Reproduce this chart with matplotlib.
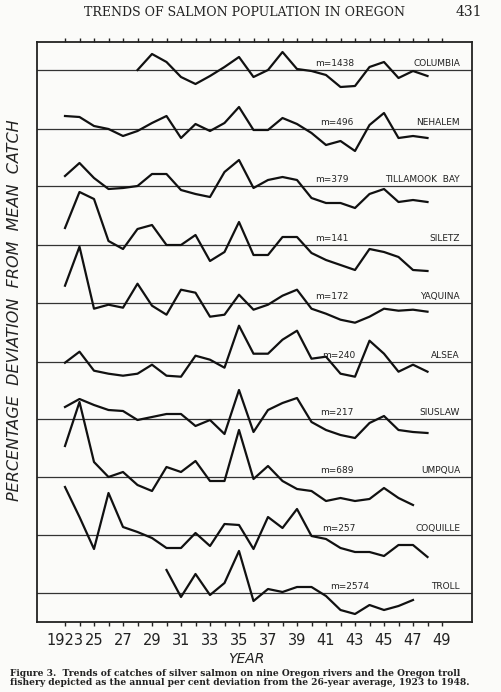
import matplotlib
matplotlib.use("Agg")
import matplotlib.pyplot as plt
import numpy as np

years = list(range(1923, 1949))
names = ["COLUMBIA", "NEHALEM", "TILLAMOOK  BAY", "SILETZ", "YAQUINA", "ALSEA",
         "SIUSLAW", "UMPQUA", "COQUILLE", "TROLL"]
means = ["m=1438", "m=496", "m=379", "m=141", "m=172", "m=240", "m=217", "m=689", "m=257", "m=2574"]
start_year = [1928, 1923, 1923, 1923, 1923, 1923, 1923, 1923, 1923, 1930]
columbia = [0, 16, 8, -7, -14, -6, 3, 13, -7, 0, 18, 1, -1, -5, -17, -16, 3, 8, -8, -1, -6]
nehalem = [13, 12, 3, 0, -7, -2, 6, 13, -9, 5, -2, 6, 22, -1, -1, 11, 5, -4, -16, -12, -22, 4, 16, -9, -7, -9]
tillamook = [10, 23, 8, -3, -2, 0, 12, 12, -4, -8, -11, 14, 26, -2, 6, 9, 6, -12, -17, -17, -22, -8, -3, -16, -14, -16]
siletz = [17, 53, 46, 4, -4, 16, 20, 0, 0, 10, -16, -7, 23, -10, -10, 8, 8, -8, -15, -20, -25, -4, -7, -12, -25, -26]
yaquina = [17, 56, -6, -2, -5, 19, -3, -12, 13, 10, -14, -12, 8, -7, -2, 7, 13, -6, -11, -17, -20, -14, -6, -8, -7, -9]
alsea = [-1, 10, -9, -12, -14, -12, -3, -14, -15, 6, 2, -6, 36, 8, 8, 22, 31, 3, 5, -12, -15, 21, 8, -10, -3, -10]
siuslaw = [12, 20, 14, 9, 8, -1, 2, 5, 5, -7, -1, -15, 29, -13, 9, 16, 21, -3, -11, -16, -19, -4, 3, -11, -13, -14]
umpqua = [31, 75, 15, 0, 5, -8, -14, 10, 5, 16, -4, -4, 47, -2, 11, -4, -12, -14, -24, -21, -24, -22, -11, -21, -28]
coquille = [48, 18, -14, 42, 8, 3, -3, -13, -13, 2, -11, 11, 10, -14, 18, 7, 26, -1, -4, -13, -17, -17, -21, -10, -10, -22]
troll = [23, -4, 19, -2, 10, 42, -8, 4, 1, 6, 6, -3, -17, -21, -12, -17, -13, -7]
series = [columbia, nehalem, tillamook, siletz, yaquina, alsea, siuslaw, umpqua, coquille, troll]

W, H = 502, 692
fig = plt.figure(figsize=(W/100, H/100), dpi=100, facecolor="#fbfbf9")
L, R, T, B = 37, 472, 42, 622
ax = fig.add_axes([L/W, 1-B/H, (R-L)/W, (B-T)/H])
ax.set_facecolor("#fbfbf9")
px = 14.5
ax.set_xlim(1923-(65-L)/px, 1923+(R-65)/px)
ax.set_ylim(-B, -T)
baselines = [70, 129, 186, 245, 302.7, 361.7, 419, 477, 535, 593]
mpos = [315, 320, 315, 315, 315, 322, 320, 320, 322, 330]
for s, base, nm, m, sy, mx in zip(series, baselines, names, means, start_year, mpos):
    yrs = np.arange(sy, sy+len(s))
    ax.axhline(-base, color="#333", lw=0.9)
    ax.plot(yrs, -base+np.array(s), color="#111", lw=1.6)
    xd = 1923+(mx-65)/px
    ax.text(xd, -base+2, m, fontsize=6.5, ha="left", va="bottom", color="#222")
    ax.text(1923+(460-65)/px, -base+2, nm, fontsize=6.5, ha="right", va="bottom", color="#222")
for sp in ax.spines.values():
    sp.set_linewidth(1.3); sp.set_color("#222")
ax.set_yticks([])
ax.set_xticks(range(1923, 1950))
ax.set_xticklabels([("1923" if y == 1923 else f"{y%100:02d}") if y % 2 == 1 else "" for y in range(1923, 1950)],
                   fontsize=10.5)
ax.tick_params(axis="x", direction="out", length=3, width=1, pad=5, colors="#222", top=True)
fig.text((65+14.5*12.5)/W, 1-659/H, "YEAR", fontsize=10, style="italic", ha="center", va="center", color="#222")
fig.text(15/W, 1-310/H, "PERCENTAGE  DEVIATION  FROM  MEAN  CATCH", rotation=90, fontsize=11.5,
         style="italic", ha="center", va="center", color="#222")
fig.text(245/W, 1-12/H, "TRENDS OF SALMON POPULATION IN OREGON", fontsize=9, family="DejaVu Serif",
         ha="center", va="center", color="#222")
fig.text(482/W, 1-12/H, "431", fontsize=10, family="DejaVu Serif", ha="right", va="center", color="#222")
fig.text(10/W, 1-678/H, "Figure 3.  Trends of catches of silver salmon on nine Oregon rivers and the Oregon troll\n"
         "fishery depicted as the annual per cent deviation from the 26-year average, 1923 to 1948.",
         fontsize=6.6, family="DejaVu Serif", weight="bold", ha="left", va="center", color="#222", linespacing=1.1)
fig.savefig("out.png", dpi=100, facecolor=fig.get_facecolor())
